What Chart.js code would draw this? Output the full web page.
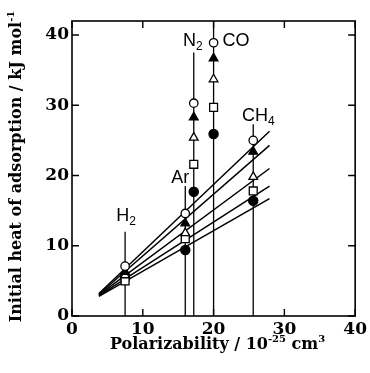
<!DOCTYPE html>
<html>
<head>
<meta charset="utf-8">
<script src="https://cdn.jsdelivr.net/npm/chart.js@4.4.1/dist/chart.umd.min.js"></script>
<style>
  html, body { margin: 0; padding: 0; background: #fff; }
  #wrap { width: 370px; height: 373px; }
</style>
</head>
<body>
<div id="wrap"><canvas id="chart" width="370" height="373"></canvas></div>
<script>
// ── DATA ──
const molecules      = ['H2', 'Ar', 'N2', 'CO', 'CH4'];
const polarizability = [7.5, 16.0, 17.2, 20.0, 25.6];
const stemTop        = [12.0, 18.5, 37.5, 42.0, 27.3];

const openCircle   = [7.1, 14.6, 30.3, 38.9, 25.0];
const filledTri    = [6.3, 13.2, 28.3, 36.7, 23.4];
const openTri      = [5.8, 11.8, 25.4, 33.7, 19.8];
const openSquare   = [5.0, 11.0, 21.6, 29.7, 17.8];
const filledCircle = [5.4,  9.4, 17.7, 25.9, 16.4];

// fitted lines: x of both ends, y of both ends per series
const fitX            = [3.8, 27.9];
const fitOpenCircle   = [3.2, 26.3];
const fitFilledTri    = [3.1, 24.3];
const fitOpenTri      = [3.0, 21.0];
const fitOpenSquare   = [2.9, 18.5];
const fitFilledCircle = [2.8, 16.7];

const xTicks = [0, 10, 20, 30, 40];
const yTicks = [0, 10, 20, 30, 40];

const serif = "'DejaVu Serif', serif";
const sans  = "'Liberation Sans', Arial, sans-serif";

const pts = (ys) => ys.map((y, i) => ({ x: polarizability[i], y }));
const fit = (ys) => ys.map((y, i) => ({ x: fitX[i], y }));

function markerSet(ys, style, fill, radius) {
  return {
    data: pts(ys), showLine: false, pointStyle: style, pointRadius: radius,
    pointBackgroundColor: fill, pointBorderColor: '#000', pointBorderWidth: 1.3, order: 0
  };
}
function lineSet(data, width) {
  return { data, showLine: true, pointRadius: 0, borderColor: '#000', borderWidth: width, order: 1 };
}

const datasets = [
  markerSet(openCircle, 'circle', '#fff', 4.2),
  markerSet(filledTri, 'triangle', '#000', 5),
  markerSet(openTri, 'triangle', '#fff', 5),
  markerSet(openSquare, 'rect', '#fff', 5.6),
  markerSet(filledCircle, 'circle', '#000', 4.6),
  lineSet(fit(fitOpenCircle), 1.5),
  lineSet(fit(fitFilledTri), 1.5),
  lineSet(fit(fitOpenTri), 1.5),
  lineSet(fit(fitOpenSquare), 1.5),
  lineSet(fit(fitFilledCircle), 1.5)
];
polarizability.forEach((x, i) => {
  datasets.push(lineSet([{ x, y: 0 }, { x, y: stemTop[i] }], 1.3));
});

// ── rich text helper (sub / superscripts) ──
function drawRich(ctx, parts, x, y, align) {
  let total = 0;
  parts.forEach(p => { ctx.font = p.font; total += ctx.measureText(p.t).width; });
  let cx = align === 'center' ? x - total / 2 : align === 'right' ? x - total : x;
  parts.forEach(p => {
    ctx.font = p.font;
    ctx.fillText(p.t, cx, y + (p.dy || 0));
    cx += ctx.measureText(p.t).width;
  });
}

const decor = {
  id: 'decor',
  afterDraw(chart) {
    const { ctx, chartArea: a, scales: { x, y } } = chart;
    ctx.save();
    ctx.strokeStyle = '#000';
    ctx.fillStyle = '#000';
    ctx.lineWidth = 1.6;
    ctx.strokeRect(a.left, a.top, a.right - a.left, a.bottom - a.top);

    // inward ticks on every side
    ctx.lineWidth = 1.4;
    ctx.beginPath();
    xTicks.forEach(v => {
      const px = x.getPixelForValue(v);
      ctx.moveTo(px, a.bottom); ctx.lineTo(px, a.bottom - 7);
      ctx.moveTo(px, a.top);    ctx.lineTo(px, a.top + 7);
    });
    yTicks.forEach(v => {
      const py = y.getPixelForValue(v);
      ctx.moveTo(a.left, py);  ctx.lineTo(a.left + 7, py);
      ctx.moveTo(a.right, py); ctx.lineTo(a.right - 7, py);
    });
    ctx.stroke();

    // axis titles
    const tf = 'bold 16px ' + serif, sf = 'bold 10px ' + serif;
    ctx.textBaseline = 'alphabetic';
    drawRich(ctx, [
      { t: 'Polarizability / 10', font: tf },
      { t: '-25', font: sf, dy: -7 },
      { t: ' cm', font: tf },
      { t: '3', font: sf, dy: -7 }
    ], (a.left + a.right) / 2 + 4, 349, 'center');

    ctx.save();
    ctx.translate(21, (a.top + a.bottom) / 2 - 2);
    ctx.rotate(-Math.PI / 2);
    drawRich(ctx, [
      { t: 'Initial heat of adsorption / kJ mol', font: tf },
      { t: '-1', font: sf, dy: -7 }
    ], 0, 0, 'center');
    ctx.restore();

    // molecule labels
    const lf = '18px ' + sans, lsf = '12px ' + sans;
    const lab = (main, sub, px, py, align) => {
      const parts = [{ t: main, font: lf }];
      if (sub) parts.push({ t: sub, font: lsf, dy: 4 });
      drawRich(ctx, parts, px, py, align);
    };
    const sx = polarizability.map(v => x.getPixelForValue(v));
    const st = stemTop.map(v => y.getPixelForValue(v));
    lab('H', '2', sx[0] + 1, st[0] - 11, 'center');
    lab('Ar', '', sx[1] + 4, st[1] - 3, 'right');
    lab('N', '2', sx[2] - 1, st[2] - 7, 'center');
    lab('CO', '', sx[3] + 9, 46, 'left');
    lab('CH', '4', sx[4] + 5, st[4] - 3, 'center');
    ctx.restore();
  }
};

new Chart(document.getElementById('chart'), {
  type: 'scatter',
  data: { datasets },
  plugins: [decor],
  options: {
    responsive: false,
    animation: false,
    layout: { padding: { top: 21, right: 10, left: 0, bottom: 0 } },
    plugins: { legend: { display: false }, tooltip: { enabled: false } },
    scales: {
      x: {
        type: 'linear', min: 0, max: 40,
        afterBuildTicks: (s) => { s.ticks = xTicks.map(v => ({ value: v })); },
        afterFit: (s) => { s.height = 57; },
        grid: { display: false, drawTicks: false },
        border: { display: false },
        ticks: { color: '#000', padding: 3, maxRotation: 0, font: { family: serif, size: 17, weight: 'bold' } }
      },
      y: {
        type: 'linear', min: 0, max: 42,
        afterBuildTicks: (s) => { s.ticks = yTicks.map(v => ({ value: v })); },
        afterFit: (s) => { s.width = 72; },
        grid: { display: false, drawTicks: false },
        border: { display: false },
        ticks: { color: '#000', padding: 3, font: { family: serif, size: 17, weight: 'bold' } }
      }
    }
  }
});
</script>
</body>
</html>
